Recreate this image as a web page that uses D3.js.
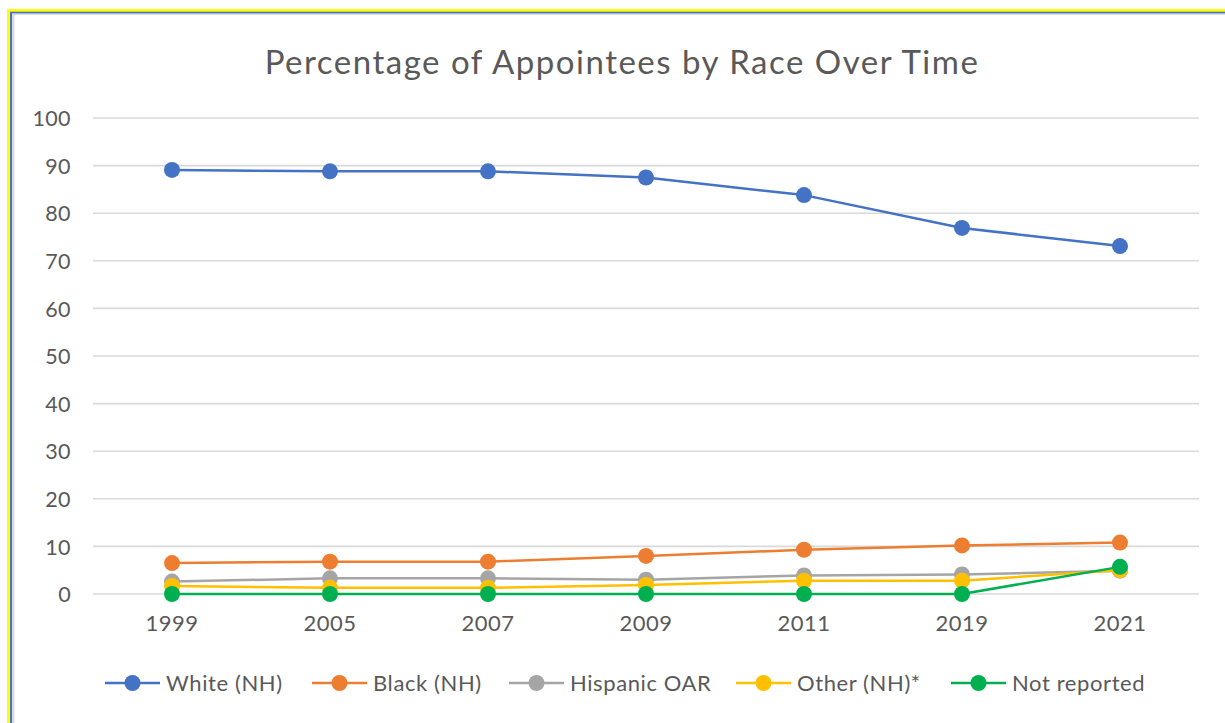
<!DOCTYPE html>
<html>
<head>
<meta charset="utf-8">
<script src="https://cdn.jsdelivr.net/npm/d3@7"></script>
<style>
  html, body { margin:0; padding:0; background:#fff; }
  svg text { font-family: Lato, "Open Sans", sans-serif; fill:#595959; }
</style>
</head>
<body>
<div id="chart"></div>
<script>
const years = ["1999","2005","2007","2009","2011","2019","2021"];
const white    = [89.1, 88.8, 88.8, 87.5, 83.8, 76.9, 73.1];
const black    = [6.5, 6.8, 6.8, 8.0, 9.3, 10.2, 10.8];
const hispanic = [2.6, 3.3, 3.3, 3.0, 3.9, 4.1, 4.9];
const other    = [1.7, 1.3, 1.3, 1.9, 2.8, 2.8, 5.0];
const notRep   = [0, 0, 0, 0, 0, 0, 5.7];
const yTicks = [0,10,20,30,40,50,60,70,80,90,100];

const series = [
  {name:"White (NH)",   values:white,    color:"#4472C4"},
  {name:"Black (NH)",   values:black,    color:"#ED7D31"},
  {name:"Hispanic OAR", values:hispanic, color:"#A5A5A5"},
  {name:"Other (NH)*",  values:other,    color:"#FFC000"},
  {name:"Not reported", values:notRep,   color:"#00B050"}
];

const W = 1225, H = 723;
const svg = d3.select("#chart").append("svg").attr("width", W).attr("height", H);

// frame edges (yellow / blue / grey)
const frame = svg.append("g");
frame.append("rect").attr("x",7).attr("y",9).attr("width",W).attr("height",H).attr("fill","#FFFF00");
frame.append("rect").attr("x",10).attr("y",11.7).attr("width",W).attr("height",H).attr("fill","#4472C4");
frame.append("rect").attr("x",12).attr("y",13.3).attr("width",W).attr("height",H).attr("fill","#D9D9D9");
frame.append("rect").attr("x",14.5).attr("y",15).attr("width",W).attr("height",H).attr("fill","#fff");

const x = d3.scaleBand().domain(years).range([93, 1199]);
const y = d3.scaleLinear().domain([0,100]).range([594, 118]);

// gridlines
svg.append("g").selectAll("line").data(yTicks).enter().append("line")
  .attr("x1", 93).attr("x2", 1199)
  .attr("y1", d=>y(d)).attr("y2", d=>y(d))
  .attr("stroke", "#D9D9D9").attr("stroke-width", 1.6);

// y axis labels
const yAxis = svg.append("g").attr("transform","translate(71,0)")
  .call(d3.axisLeft(y).tickValues(yTicks).tickSize(0).tickPadding(0));
yAxis.select(".domain").remove();
yAxis.selectAll("text").attr("font-size", 21.5).attr("font-family", null)
  .attr("fill", "#595959").attr("dy","0.36em").attr("letter-spacing", 0.4);

// x axis labels
const xAxis = svg.append("g").attr("transform","translate(0,614)")
  .call(d3.axisBottom(x).tickSize(0).tickPadding(0));
xAxis.select(".domain").remove();
xAxis.selectAll("text").attr("font-size", 22).attr("font-family", null)
  .attr("fill", "#595959").attr("dy","0.75em").attr("letter-spacing", 0.5);

// title
svg.append("text").attr("x", 622).attr("y", 74).attr("text-anchor","middle")
  .attr("font-size", 33).attr("letter-spacing", 1.5)
  .text("Percentage of Appointees by Race Over Time");

// lines and markers
const line = d3.line().x((d,i)=>x(years[i]) + x.bandwidth()/2).y(d=>y(d));
series.forEach(s => {
  const g = svg.append("g");
  g.append("path").datum(s.values).attr("d", line)
    .attr("fill","none").attr("stroke", s.color).attr("stroke-width", 2.5)
    .attr("stroke-linejoin","round");
  g.selectAll("circle").data(s.values).enter().append("circle")
    .attr("cx", (d,i)=>x(years[i]) + x.bandwidth()/2).attr("cy", d=>y(d))
    .attr("r", 8).attr("fill", s.color);
});

// legend
const legend = svg.append("g").attr("transform","translate(0,683)");
const legX = [105, 312, 509, 736, 951];
series.forEach((s,i) => {
  const g = legend.append("g").attr("transform", `translate(${legX[i]},0)`);
  g.append("line").attr("x1",0).attr("x2",55).attr("y1",0).attr("y2",0)
    .attr("stroke", s.color).attr("stroke-width", 2.5);
  g.append("circle").attr("cx", 27.5).attr("cy", 0).attr("r", 8).attr("fill", s.color);
  g.append("text").attr("x", 61).attr("y", 0).attr("dy","0.36em")
    .attr("font-size", 22).attr("letter-spacing", 0.6).text(s.name);
});
</script>
</body>
</html>
